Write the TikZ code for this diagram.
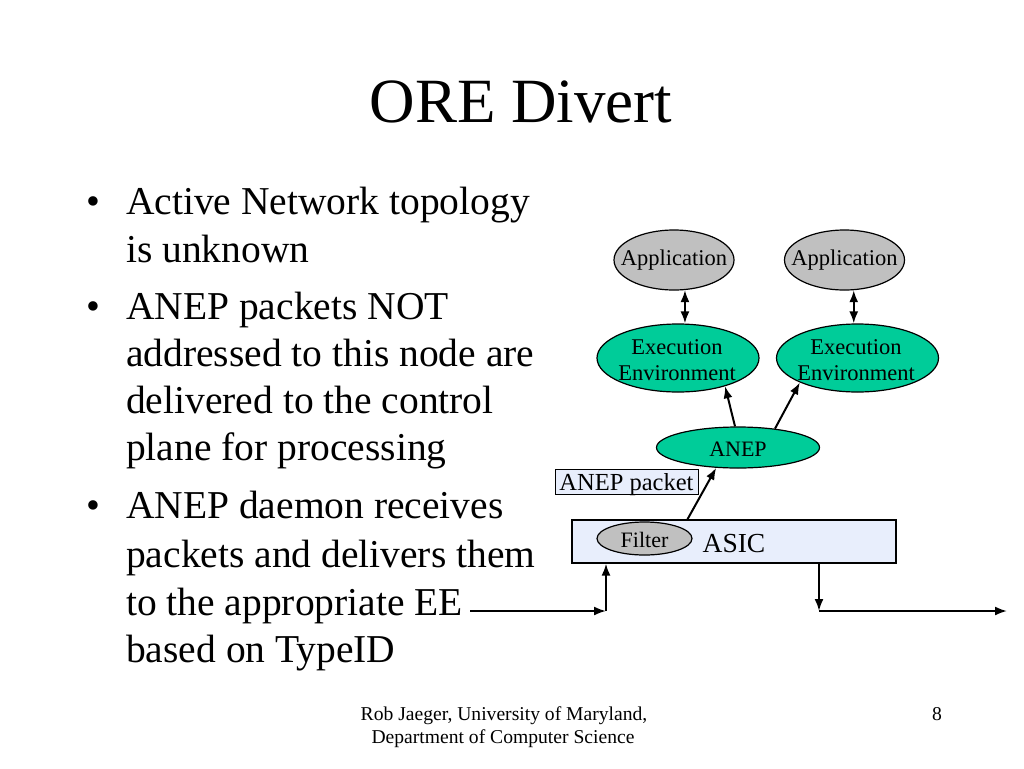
\documentclass[tikz,border=0pt]{standalone}
\usepackage{fontspec}
\setmainfont{Liberation Serif}
\usetikzlibrary{shapes.geometric,arrows.meta,calc}
\definecolor{eegreen}{RGB}{0,204,153}
\definecolor{appgray}{RGB}{192,192,192}
\definecolor{asicblue}{RGB}{232,238,252}
\tikzset{
  txt/.style={inner sep=0pt, anchor=base west, font=\fontsize{39.5}{47}\selectfont},
  bul/.style={inner sep=0pt, anchor=base west, font=\fontsize{39.5}{47}\selectfont},
  shapebase/.style={ellipse, draw=black, line width=1.2pt, inner sep=0pt},
  appnode/.style={shapebase, fill=appgray, minimum width=120pt, minimum height=60pt},
  eenode/.style={shapebase, fill=eegreen, minimum width=162pt, minimum height=68pt},
  lbl/.style={inner sep=0pt, align=center, font=\fontsize{22.5}{26}\selectfont},
  conn/.style={line width=2pt, -{Latex[length=12pt,width=9pt]}},
  dconn/.style={line width=2pt, {Latex[length=12pt,width=9pt]}-{Latex[length=12pt,width=9pt]}},
  foot/.style={inner sep=0pt, anchor=base, font=\fontsize{19.6}{23}\selectfont},
}
\begin{document}
\begin{tikzpicture}[x=1pt,y=-1pt]
\useasboundingbox[fill=white] (0,0) rectangle (1024,768);

% title
\node[inner sep=0pt, anchor=base, font=\fontsize{63}{70}\selectfont] (title) at (521,122) {ORE Divert};

% bullets
\node[bul] (b1) at (86,214) {\textbullet};
\node[txt] (l1) at (126,214) {Active Network topology};
\node[txt] (l2) at (126,262) {is unknown};
\node[bul] (b2) at (86,319) {\textbullet};
\node[txt] (l3) at (126,319) {ANEP packets NOT};
\node[txt] (l4) at (126,366) {addressed to this node are};
\node[txt] (l5) at (126,413) {delivered to the control};
\node[txt] (l6) at (126,460) {plane for processing};
\node[bul] (b3) at (86,518) {\textbullet};
\node[txt] (l7) at (126,518) {ANEP daemon receives};
\node[txt] (l8) at (126,567) {packets and delivers them};
\node[txt] (l9) at (126,615) {to the appropriate EE};
\node[txt] (l10) at (126,662) {based on TypeID};

% diagram shapes
\node[appnode] (app1) at (674,260) {};
\node[lbl] (app1t) at (app1.center) {Application};
\node[appnode] (app2) at (844.5,260) {};
\node[lbl] (app2t) at (app2.center) {Application};
\node[eenode] (ee1) at (678,358) {};
\node[lbl] (ee1t) at (677,360) {Execution\\Environment};
\node[eenode] (ee2) at (857.5,358) {};
\node[lbl] (ee2t) at (856,360) {Execution\\Environment};
\node[shapebase, fill=eegreen, minimum width=163pt, minimum height=41pt] (anep) at (738,447.5) {};
\node[lbl, font=\fontsize{22}{26}\selectfont] (anept) at (738,449) {ANEP};
\node[draw=black, line width=1pt, fill=asicblue, inner sep=0pt, minimum width=143pt,
      minimum height=25pt, text depth=0pt, font=\fontsize{24.5}{28}\selectfont] (pkt) at (626.5,481.5) {ANEP packet};
\node[draw=black, line width=1.2pt, fill=asicblue, inner sep=0pt, minimum width=324pt,
      minimum height=43pt] (asic) at (734,541.5) {};
\node[inner sep=0pt, anchor=base, font=\fontsize{27.5}{30}\selectfont] (asictxt) at (734,552) {ASIC};
\node[shapebase, fill=appgray, minimum width=95pt, minimum height=33pt] (filter) at (644.5,538.5) {};
\node[lbl, font=\fontsize{22}{26}\selectfont] (filtert) at (644.5,539.5) {Filter};

% connectors
\draw[dconn] (app1.-70) -- (app1.-70 |- ee1.north);
\draw[dconn] (app2.-73) -- (app2.-73 |- ee2.north);
\draw[conn] (anep.98) -- (ee1.-31);
\draw[conn] (anep.27) -- (ee2.203);
\draw[conn] ($(asic.north west)+(116,0)$) -- (anep.223);

\coordinate (inStart) at (470,611);
\coordinate (inCorner) at (606,611);
\coordinate (outCorner) at (819,611);
\coordinate (outEnd) at (1007,611);
\draw[conn] (inStart) -- (inCorner);
\draw[conn] (inCorner) -- (inCorner |- asic.south);
\draw[conn] (outCorner |- asic.south) -- (outCorner);
\draw[conn] (outCorner) -- (outEnd);

% footer
\node[foot] (f1) at (504,720) {Rob Jaeger, University of Maryland,};
\node[foot] (f2) at (503,743) {Department of Computer Science};
\node[foot] (pg) at (937,720) {8};
\end{tikzpicture}
\end{document}
